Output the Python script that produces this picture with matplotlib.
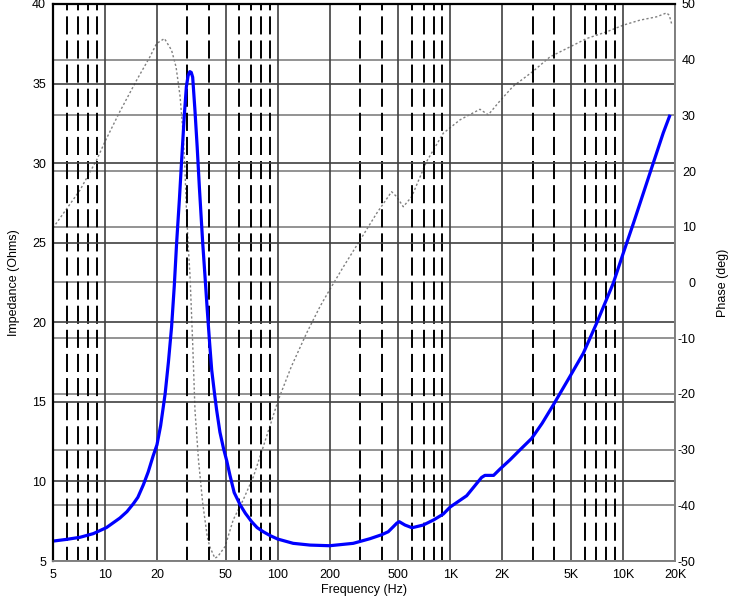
import matplotlib
matplotlib.use("Agg")
import matplotlib.pyplot as plt
from matplotlib.ticker import FixedLocator, FixedFormatter, NullFormatter

plt.rcParams['font.family'] = ['Liberation Sans', 'DejaVu Sans']
plt.rcParams['axes.unicode_minus'] = False

# impedance curve (Hz, Ohms)
imp_freq = [5, 6, 7.17, 8.56, 10.2, 12.2, 13.4, 14.6, 15.5, 16.7, 17.8, 19.0, 20,
            21, 22.3, 23.3, 24.3, 25.2, 26.0, 27.0, 27.8, 28.8, 29.6, 30.3, 31.0,
            31.6, 32.2, 33.2, 34.2, 35.2, 36.8, 38, 39.1, 40.3, 41.5, 43, 44.3,
            46.3, 48.5, 50.7, 52.9, 56, 60.5, 65, 70.7, 76, 82.5, 90.3, 100, 123,
            154, 200, 274, 342, 400, 437, 467, 490, 506, 546, 600, 697, 800, 910,
            1000, 1243, 1517, 1586, 1780, 1940, 2213, 2529, 2956, 3400, 3944, 4930,
            5886, 7032, 8776, 10030, 11470, 13100, 14960, 17100, 18600]
imp_ohms = [6.25, 6.36, 6.49, 6.72, 7.1, 7.7, 8.1, 8.6, 9.0, 9.8, 10.6, 11.6, 12.3,
            13.5, 15.5, 17.5, 19.7, 22.3, 25.0, 27.8, 30.2, 33.0, 34.8, 35.5, 35.75,
            35.7, 35.4, 33.3, 31.0, 28.5, 25.0, 22.8, 20.8, 18.8, 17.0, 15.6, 14.5,
            13.1, 12.1, 11.3, 10.4, 9.3, 8.55, 8.0, 7.47, 7.1, 6.84, 6.6, 6.38, 6.11,
            6.0, 5.96, 6.11, 6.4, 6.65, 6.84, 7.15, 7.38, 7.47, 7.26, 7.09, 7.26,
            7.58, 7.95, 8.4, 9.1, 10.25, 10.38, 10.38, 10.78, 11.35, 11.98, 12.7,
            13.65, 14.8, 16.6, 18.05, 19.94, 22.45, 24.34, 26.2, 28.1, 30.0, 31.9,
            32.95]

# phase curve (Hz, deg)
ph_freq = [5, 7.17, 8.95, 10, 12.2, 15.3, 18.2, 19.9, 22.1, 24.3, 25.8, 27.2, 28.3,
           29.0, 29.6, 30.3, 31.1, 32.2, 33.2, 34.8, 36.8, 39.1, 40.4, 43.3, 45,
           49.6, 55.3, 63.2, 72.3, 82.5, 100.8, 120, 147, 176, 200, 240, 300, 374,
           457, 489, 534, 597, 728, 910, 1137, 1484, 1658, 1937, 2305, 3009, 3773,
           4714, 6154, 8032, 10030, 12530, 15650, 17870, 18520, 19100]
ph_deg = [9.8, 16.6, 22.0, 25.3, 30.7, 36.4, 40.5, 42.9, 43.8, 41.7, 38.7, 33.5,
          27.0, 20.8, 13.3, 7.0, 1.0, -10.9, -22.9, -31.9, -39.6, -45.6, -47.4,
          -49.5, -49.2, -47.4, -42.6, -39.0, -34.9, -29.5, -21.1, -15.1, -9.1, -4.3,
          -1.3, 2.8, 7.6, 12.4, 16.3, 15.4, 13.6, 15.4, 21.7, 26.8, 29.2, 31.1, 30.1,
          32.6, 35.2, 37.9, 40.5, 42.0, 43.8, 45.0, 46.2, 47.1, 47.7, 48.4, 48.0, 46.5]

x_major = [5, 10, 20, 50, 100, 200, 500, 1000, 2000, 5000, 10000, 20000]
x_labels = ['5', '10', '20', '50', '100', '200', '500', '1K', '2K', '5K', '10K', '20K']
x_minor = [6, 7, 8, 9, 30, 40, 60, 70, 80, 90, 300, 400, 600, 700, 800, 900,
           3000, 4000, 6000, 7000, 8000, 9000]
imp_ticks = [5, 10, 15, 20, 25, 30, 35, 40]
ph_ticks = [-50, -40, -30, -20, -10, 0, 10, 20, 30, 40, 50]

fig = plt.figure(figsize=(7.32, 6.01), dpi=100)
ax = fig.add_axes([53 / 732, 1 - 561 / 601, 622 / 732, 557 / 601])
ax2 = ax.twinx()

# phase axes sits underneath
ax.set_zorder(2)
ax2.set_zorder(1)
ax.patch.set_visible(False)
ax2.patch.set_visible(True)
ax2.patch.set_facecolor('white')

ax.set_xscale('log')
ax.set_xlim(5, 20000)
ax.set_ylim(5, 40)
ax2.set_ylim(-50, 50)

ax.xaxis.set_major_locator(FixedLocator(x_major))
ax.xaxis.set_major_formatter(FixedFormatter(x_labels))
ax.xaxis.set_minor_locator(FixedLocator(x_minor))
ax.xaxis.set_minor_formatter(NullFormatter())
ax.set_yticks(imp_ticks)
ax2.set_yticks(ph_ticks)

ax.grid(which='major', axis='x', color='#404040', lw=1.2)
ax.grid(which='minor', axis='x', color='black', lw=1.4, ls=(2, (9.3, 3.1)))
ax.grid(which='major', axis='y', color='#404040', lw=1.2)
ax2.grid(which='major', axis='y', color='#808080', lw=1.2)

ax2.plot(ph_freq, ph_deg, color='#808080', lw=1.0, ls=(0, (1.6, 1.6)))
ax.plot(imp_freq, imp_ohms, color='#0000ff', lw=2.3)

ax.tick_params(which='both', length=0, labelsize=9, pad=5)
ax.tick_params(axis='x', pad=6)
ax2.tick_params(which='both', length=0, labelsize=9, pad=15)
for t in ax2.get_yticklabels():
    t.set_horizontalalignment('right')

ax.set_xlabel('Frequency (Hz)', fontsize=9, labelpad=2)
ax.set_ylabel('Impedance (Ohms)', fontsize=9, labelpad=9)
ax2.set_ylabel('Phase (deg)', fontsize=9, labelpad=15)

for s in ['left', 'top']:
    ax.spines[s].set_color('black')
    ax.spines[s].set_linewidth(1.6)
for s in ['right', 'bottom']:
    ax.spines[s].set_color('#808080')
    ax.spines[s].set_linewidth(1.4)
for s in ax2.spines.values():
    s.set_visible(False)

fig.savefig('out.png', dpi=100)
